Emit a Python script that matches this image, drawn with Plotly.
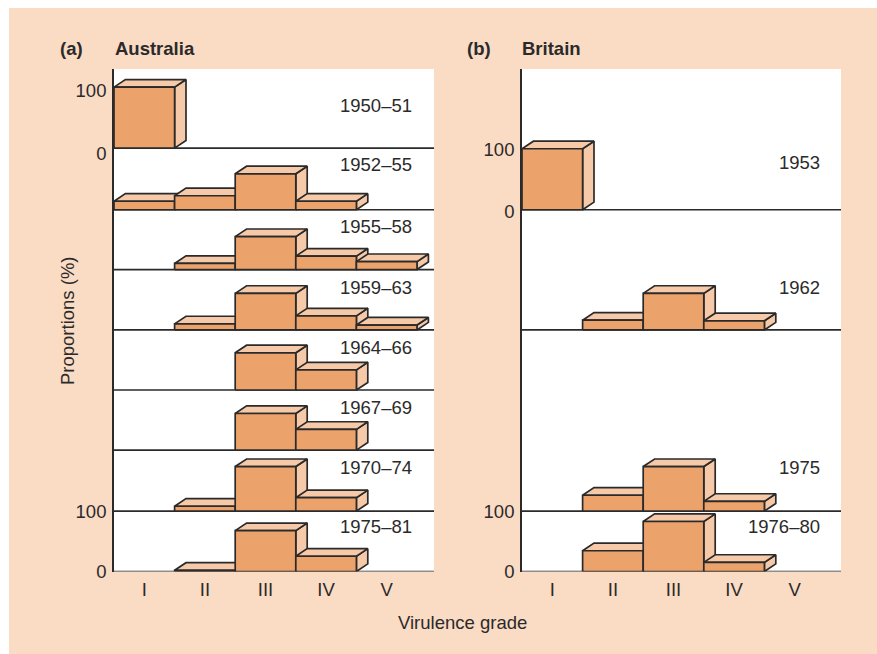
import plotly.graph_objects as go

grades = ["I", "II", "III", "IV", "V"]

aus_periods = ["1950–51", "1952–55", "1955–58", "1959–63", "1964–66", "1967–69", "1970–74", "1975–81"]
aus_i = [100, 14, 0, 0, 0, 0, 0, 0]
aus_ii = [0, 23, 10, 10, 0, 0, 8, 2]
aus_iii = [0, 59, 54, 60, 61, 60, 73, 67]
aus_iv = [0, 14, 22, 23, 33, 34, 22, 25]
aus_v = [0, 0, 13, 8, 0, 0, 0, 0]

brit_periods = ["1953", "1962", "1975", "1976–80"]
brit_i = [100, 0, 0, 0]
brit_ii = [0, 16, 26, 34]
brit_iii = [0, 60, 73, 82]
brit_iv = [0, 15, 16, 15]
brit_v = [0, 0, 0, 0]

# Baseline of every stacked row, in % units above the bottom row
aus_row_base = [694, 593, 495, 396, 297.5, 199, 99, 0]
brit_row_base = [593, 396, 99, 0]
# Height of each period label above its own baseline
aus_label_h = [70, 74, 70, 70, 70, 70, 71.5, 73]
brit_label_h = [77, 70, 71.5, 73]

aus_ticks = [788, 685, 99, 0]
brit_ticks = [691, 590, 99, 0]
tick_text = ["100", "0", "100", "0"]

W, H = 877, 654
TOP, BOTTOM = 69, 571.5
PX_PER_PCT = 0.61
BAR_PX = 60.6
DX, DY = 11.4 / BAR_PX, 7.6 / PX_PER_PCT

INK = "#2b2a2a"
FRONT = "#eca36b"
LIGHT = "#f6caa8"
PEACH = "#fadbc4"
FONT = "Liberation Sans"
SIZE = 18.5
LW = 1.7

fig = go.Figure()


def face(xs, ys, color, xa, ya):
    fig.add_trace(go.Scatter(
        x=xs, y=ys, mode="lines", fill="toself", fillcolor=color,
        line=dict(color=INK, width=LW), hoverinfo="skip", showlegend=False,
        cliponaxis=False, xaxis=xa, yaxis=ya))


def draw_panel(series, bases, periods, label_h, xa, ya, xname, yname):
    for base, period, lh in zip(bases, periods, label_h):
        fig.add_trace(go.Scatter(
            x=[0, 320 / BAR_PX], y=[base, base], mode="lines",
            line=dict(color=INK, width=LW), hoverinfo="skip", showlegend=False,
            cliponaxis=False, xaxis=xa, yaxis=ya))
        fig.add_annotation(x=300 / BAR_PX, y=base + lh, xref=xname, yref=yname, text=period,
                           showarrow=False, xanchor="right", yanchor="middle",
                           font=dict(family=FONT, size=SIZE, color=INK))
    for r, base in enumerate(bases):
        for g, vals in enumerate(series):
            v = vals[r]
            if v <= 0:
                continue
            top = base + v
            face([g + 1, g + 1 + DX, g + 1 + DX, g + 1, g + 1],
                 [base, base + DY, top + DY, top, base], LIGHT, xa, ya)
            face([g, g + DX, g + 1 + DX, g + 1, g],
                 [top, top + DY, top + DY, top, top], LIGHT, xa, ya)
            face([g, g + 1, g + 1, g, g],
                 [base, base, top, top, base], FRONT, xa, ya)


draw_panel([aus_i, aus_ii, aus_iii, aus_iv, aus_v], aus_row_base, aus_periods, aus_label_h,
           "x", "y", "x", "y")
draw_panel([brit_i, brit_ii, brit_iii, brit_iv, brit_v], brit_row_base, brit_periods, brit_label_h,
           "x2", "y2", "x2", "y2")


def xaxis(x0, x1):
    return dict(domain=[x0 / W, x1 / W], range=[0, (x1 - x0) / BAR_PX], automargin=False,
                tickmode="array", tickvals=[i + 0.5 for i in range(5)], ticktext=grades,
                showgrid=False, zeroline=False, showline=False,
                ticks="outside", ticklen=1, tickcolor="rgba(0,0,0,0)",
                tickfont=dict(family=FONT, size=SIZE, color=INK), fixedrange=True)


def yaxis(ticks, anchor):
    return dict(domain=[1 - BOTTOM / H, 1 - TOP / H], automargin=False,
                range=[0, (BOTTOM - TOP) / PX_PER_PCT], anchor=anchor,
                tickmode="array", tickvals=ticks, ticktext=tick_text,
                showgrid=False, zeroline=False, showline=True, linecolor=INK, linewidth=1.7,
                ticks="outside", ticklen=2, tickcolor="rgba(0,0,0,0)",
                tickfont=dict(family=FONT, size=SIZE, color=INK), fixedrange=True)


fig.update_layout(
    width=W, height=H, margin=dict(l=0, r=0, t=0, b=0),
    paper_bgcolor=PEACH, plot_bgcolor="white", showlegend=False,
    xaxis=xaxis(114, 434), yaxis=yaxis(aus_ticks, "x"),
    xaxis2=dict(xaxis(522, 841), anchor="y2"),
    yaxis2=yaxis(brit_ticks, "x2"),
    shapes=[
        dict(type="rect", xref="paper", yref="paper", x0=0, x1=9 / W, y0=0, y1=1,
             fillcolor="white", line_width=0, layer="below"),
        dict(type="rect", xref="paper", yref="paper", x0=0, x1=1, y0=1 - 8 / H, y1=1,
             fillcolor="white", line_width=0, layer="below"),
    ],
)


def header(x, text):
    fig.add_annotation(x=x / W, y=1 - 49 / H, xref="paper", yref="paper",
                       text=f"<b>{text}</b>", showarrow=False, xanchor="left", yanchor="middle",
                       font=dict(family=FONT, size=SIZE, color=INK))


header(58, "(a)")
header(113, "Australia")
header(465, "(b)")
header(520, "Britain")
fig.add_annotation(x=462.5 / W, y=1 - 622 / H, xref="paper", yref="paper",
                   text="Virulence grade", showarrow=False, xanchor="center", yanchor="middle",
                   font=dict(family=FONT, size=SIZE, color=INK))
fig.add_annotation(x=67 / W, y=1 - 321 / H, xref="paper", yref="paper", textangle=-90,
                   text="Proportions (%)", showarrow=False, xanchor="center", yanchor="middle",
                   font=dict(family=FONT, size=SIZE, color=INK))

fig.write_html("out.html", config=dict(displayModeBar=False),
               post_script="document.documentElement.style.overflow='hidden';document.body.style.margin='0';")
